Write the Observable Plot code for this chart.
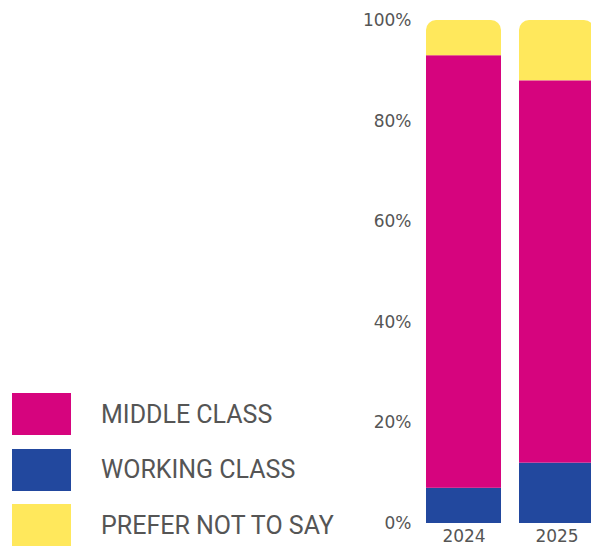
<!DOCTYPE html>
<html>
<head>
<meta charset="utf-8">
<script src="https://cdn.jsdelivr.net/npm/d3@7"></script>
<script src="https://cdn.jsdelivr.net/npm/@observablehq/plot@0.6"></script>
<style>
  html, body { margin: 0; padding: 0; background: #fff; }
  #wrap { position: relative; width: 591px; height: 547px; overflow: hidden; }
  #legend { position: absolute; left: 12px; top: 393px; font-family: Roboto, sans-serif; font-size: 25px; color: #555; }
  .row { display: flex; align-items: center; height: 42px; margin-bottom: 13.5px; }
  .sw { width: 59px; height: 42px; margin-right: 30px; }
</style>
</head>
<body>
<div id="wrap"><div id="legend"></div></div>
<script>
const years = ["2024", "2025"];
const classes = ["WORKING CLASS", "MIDDLE CLASS", "PREFER NOT TO SAY"];
const working = [7, 12];
const middle = [86, 76];
const prefer = [7, 12];
const colors = ["#22489E", "#D6047E", "#FFE85C"];
const legendOrder = ["MIDDLE CLASS", "WORKING CLASS", "PREFER NOT TO SAY"];
const yTicks = [0, 20, 40, 60, 80, 100];

const series = [working, middle, prefer];
const rows = [];
years.forEach((yr, i) => {
  let acc = 0;
  series.forEach((s, k) => {
    rows.push({year: yr, cls: classes[k], y1: acc, y2: acc + s[i]});
    acc += s[i];
  });
});
const lowerRows = rows.filter(d => d.cls !== "PREFER NOT TO SAY");
const topRows = rows.filter(d => d.cls === "PREFER NOT TO SAY");

const colorScale = {domain: classes, range: colors};

const chart = Plot.plot({
  width: 591,
  height: 547,
  marginLeft: 425,
  marginRight: 0,
  marginTop: 20,
  marginBottom: 24,
  style: {fontFamily: "'DejaVu Sans', sans-serif", fontSize: "17px", color: "#555", background: "transparent"},
  x: {domain: years, range: [425, 595], paddingInner: 0.19, paddingOuter: 0, label: null, tickSize: 0, tickPadding: 6},
  y: {domain: [0, 100], ticks: yTicks, tickFormat: d => d + "%", label: null, tickSize: 0, tickPadding: 14},
  color: colorScale,
  marks: [
    Plot.gridY(yTicks, {stroke: "#e4e4e4", strokeOpacity: 1, x1: 425, x2: 591}),
    Plot.barY(lowerRows, {x: "year", y1: "y1", y2: "y2", fill: "cls"}),
    Plot.barY(topRows, {x: "year", y1: "y1", y2: "y2", fill: "cls", ry1: 10})
  ]
});
document.getElementById("wrap").prepend(chart);

const legend = document.getElementById("legend");
legendOrder.forEach(c => {
  const row = document.createElement("div");
  row.className = "row";
  const sw = document.createElement("div");
  sw.className = "sw";
  sw.style.background = colors[classes.indexOf(c)];
  const t = document.createElement("span");
  t.textContent = c;
  row.appendChild(sw);
  row.appendChild(t);
  legend.appendChild(row);
});
</script>
</body>
</html>
